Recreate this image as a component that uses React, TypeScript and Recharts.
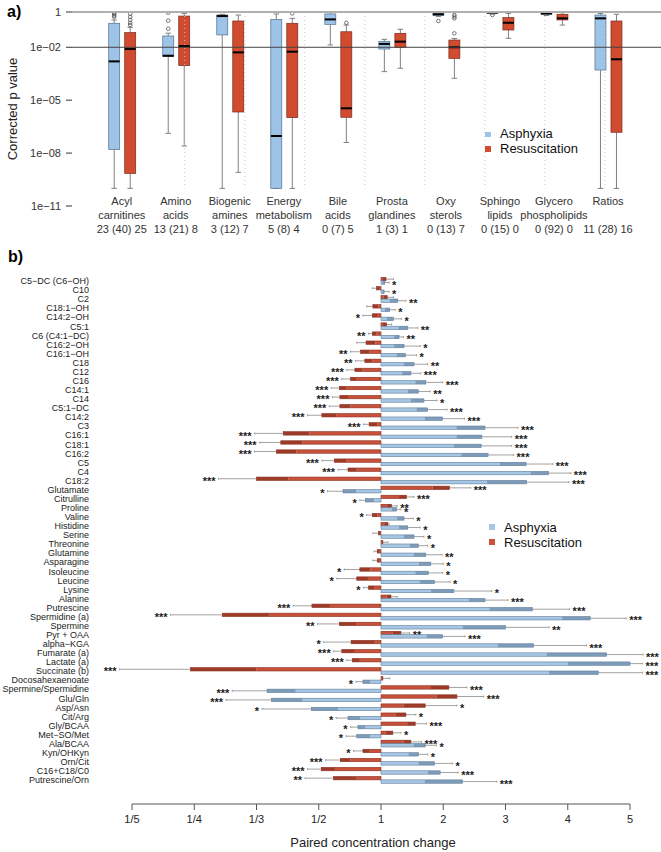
import React from "react";
import { ComposedChart, BarChart, Bar, XAxis, YAxis, ReferenceLine, Legend } from "recharts";

const FONT = '"Liberation Sans", Arial, Helvetica, sans-serif';

// ---------- panel a: corrected p values per metabolite class ----------
const groupLine1 = ["Acyl", "Amino", "Biogenic", "Energy", "Bile", "Prosta", "Oxy", "Sphingo", "Glycero", "Ratios"];
const groupLine2 = ["carnitines", "acids", "amines", "metabolism", "acids", "glandines", "sterols", "lipids", "phospholipids", ""];
const groupCounts = ["23 (40) 25", "13 (21) 8", "3 (12) 7", "5 (8) 4", "0 (7) 5", "1 (3) 1", "0 (13) 7", "0 (15) 0", "0 (92) 0", "11 (28) 16"];

// log10(p): [lower whisker, Q1, median, Q3, upper whisker]
const asphBoxes = [
  [-10.0, -7.8, -2.8, -0.64, -0.45],
  [-6.88, -2.53, -2.48, -1.36, -1.2],
  [-10.0, -1.3, -0.23, -0.17, -0.13],
  [-10.0, -10.0, -7.03, -0.42, -0.11],
  [-1.87, -0.7, -0.42, -0.11, -0.02],
  [-3.38, -2.1, -1.81, -1.68, -1.55],
  [-0.25, -0.19, -0.13, -0.08, -0.04],
  [-0.12, -0.08, -0.03, -0.01, 0],
  [-0.2, -0.15, -0.08, -0.02, 0],
  [-10.0, -3.29, -0.36, -0.17, -0.08],
];
const asphOutliers = [[-0.05, -0.12, -0.2, -0.27], [-0.04, -0.49, -0.95], [], [], [], [], [-0.51], [-0.17], [], []];

const resusBoxes = [
  [-10.0, -9.15, -2.1, -1.17, -0.87],
  [-7.6, -3.04, -1.93, -0.23, -0.08],
  [-9.09, -5.67, -2.29, -0.51, -0.17],
  [-10.0, -5.99, -2.25, -0.64, -0.36],
  [-7.4, -5.97, -5.46, -1.12, -0.74],
  [-3.19, -2.0, -1.68, -1.21, -0.98],
  [-3.76, -2.63, -2.0, -1.59, -1.5],
  [-1.49, -1.02, -0.61, -0.32, -0.08],
  [-0.74, -0.45, -0.36, -0.13, -0.04],
  [-10.0, -6.82, -2.68, -0.51, -0.13],
];
const resusOutliers = [[-0.1, -0.28, -0.45, -0.62, -0.74], [], [], [-0.08], [-0.61], [], [-0.17, -0.26, -0.36, -1.21], [], [], []];

const pTicks = [1, 1e-2, 1e-5, 1e-8, 1e-11];
const pTickLabels = ["1", "1e\u221202", "1e\u221205", "1e\u221208", "1e\u221211"];
const groupBounds = [1.5, 2.5, 3.5, 4.5, 5.5, 6.5, 7.5, 8.5, 9.5];

// ---------- panel b: paired concentration change (signed fold: -2 = 1/2) ----------
const metabolites = [
  "C5\u2212DC (C6\u2212OH)", "C10", "C2", "C18:1\u2212OH", "C14:2\u2212OH", "C5:1", "C6 (C4:1\u2212DC)", "C16:2\u2212OH",
  "C16:1\u2212OH", "C18", "C12", "C16", "C14:1", "C14", "C5:1\u2212DC", "C14:2", "C3", "C16:1", "C18:1", "C16:2",
  "C5", "C4", "C18:2", "Glutamate", "Citrulline", "Proline", "Valine", "Histidine", "Serine", "Threonine",
  "Glutamine", "Asparagine", "Isoleucine", "Leucine", "Lysine", "Alanine", "Putrescine", "Spermidine (a)",
  "Spermine", "Pyr + OAA", "alpha\u2212KGA", "Fumarate (a)", "Lactate (a)", "Succinate (b)", "Docosahexaenoate",
  "Spermine/Spermidine", "Glu/Gln", "Asp/Asn", "Cit/Arg", "Gly/BCAA", "Met\u2212SO/Met", "Ala/BCAA", "Kyn/OHKyn",
  "Orn/Cit", "C16+C18/C0", "Putrescine/Orn",
];

// [inner, outer, whisker end]
const resusFold = [
  [1.02, 1.08, 1.2], [-1.02, -1.07, -1.14], [1.04, 1.1, 1.2], [-1.04, -1.13, -1.23], [-1.05, -1.14, -1.29],
  [1.03, 1.09, 1.17], [-1.07, -1.14, -1.2], [-1.09, -1.24, -1.39], [-1.19, -1.33, -1.49], [-1.14, -1.26, -1.41],
  [-1.3, -1.42, -1.55], [-1.39, -1.49, -1.63], [-1.55, -1.67, -1.8], [-1.53, -1.66, -1.78], [-1.49, -1.66, -1.83],
  [-1.72, -1.95, -2.18], [-1.06, -1.19, -1.28], [-2.15, -2.57, -3.03], [-2.26, -2.61, -2.95], [-2.36, -2.68, -3.03],
  [-1.55, -1.75, -1.95], [-1.39, -1.53, -1.69], [-2.49, -3.0, -3.61], [1.83, 2.1, 2.44], [1.29, 1.41, 1.53],
  [1.09, 1.17, 1.26], [-1.06, -1.14, -1.23], [1.05, 1.11, 1.13], [-1.01, -1.04, -1.13], [1.01, 1.03, 1.11],
  [-1.02, -1.06, -1.11], [-1.02, -1.06, -1.13], [-1.17, -1.34, -1.59], [-1.21, -1.39, -1.71], [-1.1, -1.2, -1.28],
  [1.09, 1.16, 1.26], [-1.82, -2.11, -2.41], [-2.8, -3.55, -4.38], [-1.4, -1.67, -2.02], [1.19, 1.32, 1.46],
  [-1.1, -1.48, -1.92], [-1.42, -1.63, -1.76], [-1.34, -1.46, -1.55], [-3.0, -4.06, -5.2], [1.01, 1.03, 1.14],
  [1.79, 2.09, 2.38], [1.89, 2.22, 2.65], [1.36, 1.71, 2.22], [1.23, 1.4, 1.56], [1.42, 1.55, 1.73],
  [1.07, 1.19, 1.32], [1.36, 1.48, 1.65], [-1.18, -1.29, -1.44], [-1.49, -1.65, -1.89], [-1.74, -1.96, -2.18],
  [-1.39, -1.76, -2.22],
];
const resusStars = [
  "", "", "", "", "*", "", "**", "", "**", "**", "***", "***", "***", "***", "***", "***", "***", "***", "***", "***",
  "***", "***", "***", "***", "***", "**", "*", "", "", "", "", "", "*", "*", "*", "", "***", "***", "**", "**",
  "*", "***", "***", "***", "", "***", "***", "*", "*", "***", "*", "***", "*", "***", "***", "**",
];

const asphFold = [
  [1.02, 1.06, 1.13], [1.02, 1.05, 1.13], [1.14, 1.27, 1.4], [1.06, 1.14, 1.23], [1.09, 1.2, 1.33],
  [1.28, 1.43, 1.59], [1.21, 1.29, 1.36], [1.21, 1.37, 1.63], [1.25, 1.39, 1.57], [1.37, 1.53, 1.75],
  [1.34, 1.48, 1.64], [1.55, 1.72, 1.99], [1.43, 1.6, 1.79], [1.48, 1.69, 1.9], [1.57, 1.75, 2.06],
  [1.7, 1.99, 2.34], [2.21, 2.67, 3.2], [2.21, 2.62, 3.1], [2.17, 2.61, 3.1], [2.29, 2.72, 3.13],
  [2.91, 3.33, 3.76], [3.4, 3.69, 4.05], [2.7, 3.34, 4.02], [-1.4, -1.61, -1.86], [-1.11, -1.25, -1.34],
  [1.17, 1.25, 1.32], [1.26, 1.37, 1.52], [1.29, 1.43, 1.63], [1.37, 1.53, 1.69], [1.46, 1.6, 1.75],
  [1.53, 1.72, 1.98], [1.61, 1.8, 2.0], [1.55, 1.76, 1.99], [1.62, 1.86, 2.11], [1.8, 2.17, 2.78],
  [2.41, 2.67, 3.04], [2.74, 3.43, 4.03], [3.91, 4.36, 4.94], [2.31, 3.0, 3.7], [1.73, 1.99, 2.35],
  [2.88, 3.45, 4.3], [3.66, 4.62, 5.21], [4.0, 5.0, 5.2], [3.7, 4.49, 5.2], [-1.17, -1.29, -1.4],
  [-2.37, -2.83, -3.39], [-2.26, -2.76, -3.49], [-1.69, -2.12, -2.91], [-1.33, -1.53, -1.72], [-1.25, -1.37, -1.49],
  [-1.17, -1.39, -1.56], [1.52, 1.71, 1.89], [1.44, 1.6, 1.75], [1.6, 1.86, 2.15], [1.75, 1.95, 2.24],
  [1.7, 2.31, 2.86],
];
const asphStars = [
  "*", "*", "**", "*", "*", "**", "**", "*", "*", "**", "***", "***", "**", "*", "***", "***", "***", "***", "***", "***",
  "***", "***", "***", "*", "*", "*", "*", "*", "*", "*", "**", "*", "*", "*", "*", "***", "***", "***", "**", "***",
  "***", "***", "***", "***", "*", "***", "***", "*", "*", "*", "*", "*", "*", "*", "***", "***",
];

const foldTicks = [-5, -4, -3, -2, 1, 2, 3, 4, 5];
const foldTickLabels = ["1/5", "1/4", "1/3", "1/2", "1", "2", "3", "4", "5"];

const BLUE = { box: "#9dc3e6", boxStroke: "#50708f", light: "#a7c6e3", dark: "#7e9bb8", stroke: "#5f7f9e" };
const RED = { box: "#d04b2f", boxStroke: "#7a2a1a", light: "#c8513a", dark: "#9e3b28", stroke: "#8a3020" };

// signed fold -> linear axis position (1 -> 0, 2 -> 1, 1/2 -> -1)
const toAxis = (s: number) => (s >= 0 ? s - 1 : s + 1);

const rowsA = groupLine1.map((g, i) => ({
  group: `${g} ${groupLine2[i]}`.trim(),
  asph: asphBoxes[i],
  asphOut: asphOutliers[i],
  resus: resusBoxes[i],
  resusOut: resusOutliers[i],
}));

const rowsB = metabolites.map((name, i) => ({
  name,
  resus: resusFold[i],
  resusStars: resusStars[i],
  asph: asphFold[i],
  asphStars: asphStars[i],
}));

function makeBoxShape(key: "asph" | "resus", fill: string, stroke: string) {
  return (props: any) => {
    const { x, y, width, height, payload } = props;
    const s: number[] = payload[key];
    const out: number[] = payload[key + "Out"];
    const top = Math.min(y, y + height);
    const bottom = Math.max(y, y + height);
    const lo = s[0];
    const hi = s[4];
    const py = (v: number) => top + ((hi - v) / (hi - lo)) * (bottom - top);
    const cx = x + width / 2;
    const cap = width / 4;
    const wc = "#808080";
    return (
      <g>
        <line x1={cx} x2={cx} y1={py(hi)} y2={py(s[3])} stroke={wc} />
        <line x1={cx} x2={cx} y1={py(s[1])} y2={py(lo)} stroke={wc} />
        <line x1={cx - cap} x2={cx + cap} y1={py(hi)} y2={py(hi)} stroke={wc} />
        <line x1={cx - cap} x2={cx + cap} y1={py(lo)} y2={py(lo)} stroke={wc} />
        <rect x={x} y={py(s[3])} width={width} height={Math.max(py(s[1]) - py(s[3]), 1)} fill={fill} stroke={stroke} strokeWidth={0.7} />
        <line x1={x} x2={x + width} y1={py(s[2])} y2={py(s[2])} stroke="#000" strokeWidth={2} />
        {out.map((o, i) => (
          <circle key={i} cx={cx} cy={py(o)} r={1.8} fill="none" stroke="#555" strokeWidth={0.8} />
        ))}
      </g>
    );
  };
}

function makeFoldShape(key: "asph" | "resus", pal: typeof BLUE) {
  return (props: any) => {
    const { x, y, width, height, payload } = props;
    const [inner, outer, whisk] = (payload[key] as number[]).map(toAxis);
    const stars: string = payload[key + "Stars"];
    const l = Math.min(x, x + width);
    const r = Math.max(x, x + width);
    const p0 = outer >= 0 ? l : r;
    const pb = outer >= 0 ? r : l;
    const px = (t: number) => p0 + ((pb - p0) * t) / outer;
    const pa = px(inner);
    const pc = px(whisk);
    const cy = y + height / 2;
    const dir = outer >= 0 ? 1 : -1;
    return (
      <g>
        <line x1={pb} x2={pc} y1={cy} y2={cy} stroke="#8a8a8a" strokeWidth={0.8} />
        <line x1={pc} x2={pc} y1={cy - 1} y2={cy + 1} stroke="#8a8a8a" strokeWidth={0.8} />
        <rect x={Math.min(p0, pa)} y={y} width={Math.abs(pa - p0)} height={height} fill={pal.light} />
        <rect x={Math.min(pa, pb)} y={y} width={Math.abs(pb - pa)} height={height} fill={pal.dark} />
        <rect x={Math.min(p0, pb)} y={y} width={Math.abs(pb - p0)} height={height} fill="none" stroke={pal.stroke} strokeWidth={0.6} />
        {stars ? (
          <text
            x={pc + dir * 3}
            y={cy + 6.2}
            textAnchor={dir > 0 ? "start" : "end"}
            fontSize={11}
            fontWeight="bold"
            fill="#1a1a1a"
            fontFamily={FONT}
          >
            {stars}
          </text>
        ) : null}
      </g>
    );
  };
}

const legendOrder = ["Asphyxia", "Resuscitation"];
function LegendList(props: any) {
  const { payload, size, lineHeight, gap } = props;
  const items = [...(payload || [])].sort((a: any, b: any) => legendOrder.indexOf(a.value) - legendOrder.indexOf(b.value));
  return (
    <div style={{ fontFamily: FONT, fontSize: 13, color: "#111", lineHeight: `${lineHeight}px` }}>
      {items.map((it: any) => (
        <div key={it.value} style={{ display: "flex", alignItems: "center", whiteSpace: "nowrap" }}>
          <span style={{ display: "inline-block", width: size, height: size, background: it.color, marginRight: gap }} />
          {it.value}
        </div>
      ))}
    </div>
  );
}

function GroupTick(props: any) {
  const { x, y, index } = props;
  return (
    <text textAnchor="middle" fontSize={11} fill="#333" fontFamily={FONT}>
      <tspan x={x} y={y - 1}>{groupLine1[index]}</tspan>
      <tspan x={x} y={y + 13}>{groupLine2[index]}</tspan>
      <tspan x={x} y={y + 27}>{groupCounts[index]}</tspan>
    </text>
  );
}

export default function App() {
  return (
    <div style={{ position: "absolute", left: 0, top: 0, width: 661, height: 852, background: "#fff", fontFamily: FONT }}>
      <div style={{ position: "absolute", left: 7, top: 4, fontSize: 16, fontWeight: "bold", lineHeight: "16px" }}>a)</div>
      <div style={{ position: "absolute", left: 8, top: 249, fontSize: 16, fontWeight: "bold", lineHeight: "16px" }}>b)</div>

      <div style={{ position: "absolute", left: 0, top: 0 }}>
        <ComposedChart width={661} height={240} data={rowsA} margin={{ top: 12, right: 0, bottom: 0, left: 0 }} barSize={11} barGap={5}>
          <XAxis
            dataKey="group"
            type="category"
            padding={{ left: 22.7, right: 26 }}
            axisLine={false}
            tickLine={false}
            tickSize={0}
            tickMargin={0}
            interval={0}
            height={34}
            tick={<GroupTick />}
          />
          <XAxis xAxisId="sep" type="number" domain={[0.5, 10.5]} padding={{ left: 22.7, right: 26 }} hide />
          <YAxis
            scale="log"
            domain={[1e-11, 1]}
            allowDataOverflow
            ticks={pTicks}
            tickFormatter={(v: number, i: number) => pTickLabels[i]}
            width={72}
            axisLine={false}
            tickLine={{ stroke: "#333" }}
            tickSize={6}
            tickMargin={5}
            tick={{ fontSize: 11, fill: "#333", fontFamily: FONT }}
            label={{ value: "Corrected p value", angle: -90, position: "insideLeft", offset: 12, fontSize: 13, fill: "#222", style: { textAnchor: "middle" } }}
          />
          {groupBounds.map((b) => (
            <ReferenceLine
              key={b}
              xAxisId="sep"
              segment={[{ x: b, y: 1 }, { x: b, y: 1e-10 }]}
              stroke="#c4c4c4"
              strokeDasharray="1 3"
            />
          ))}
          <ReferenceLine y={1} stroke="#b0b0b0" strokeWidth={2} />
          <ReferenceLine y={0.01} stroke="#444" strokeWidth={1} />
          <Bar
            name="Asphyxia"
            dataKey={(d: any) => [Math.pow(10, d.asph[0]), Math.pow(10, d.asph[4])]}
            fill={BLUE.box}
            shape={makeBoxShape("asph", BLUE.box, BLUE.boxStroke)}
            isAnimationActive={false}
          />
          <Bar
            name="Resuscitation"
            dataKey={(d: any) => [Math.pow(10, d.resus[0]), Math.pow(10, d.resus[4])]}
            fill={RED.box}
            shape={makeBoxShape("resus", RED.box, RED.boxStroke)}
            isAnimationActive={false}
          />
          <Legend
            layout="vertical"
            align="center"
            verticalAlign="middle"
            wrapperStyle={{ left: 485, top: 127, width: "auto" }}
            content={(p: any) => <LegendList payload={p.payload} size={5.5} lineHeight={14.5} gap={9.5} />}
          />
        </ComposedChart>
      </div>

      <div style={{ position: "absolute", left: 0, top: 250 }}>
        <BarChart
          width={661}
          height={602}
          data={rowsB}
          layout="vertical"
          margin={{ top: 26.46, right: 31, bottom: 0, left: 0 }}
          barSize={3.4}
          barGap={0}
        >
          <XAxis
            type="number"
            domain={[-4, 4]}
            ticks={foldTicks.map(toAxis)}
            tickFormatter={(v: number, i: number) => foldTickLabels[i]}
            axisLine={{ stroke: "#555" }}
            tickLine={{ stroke: "#555" }}
            tickSize={6}
            tickMargin={5}
            height={48}
            tick={{ fontSize: 11, fill: "#222", fontFamily: FONT }}
            label={{ value: "Paired concentration change", position: "insideBottom", offset: 5, dx: -8, fontSize: 13, fill: "#222" }}
          />
          <YAxis
            type="category"
            dataKey="name"
            width={132}
            interval={0}
            axisLine={false}
            tickLine={false}
            tickSize={0}
            tickMargin={43}
            padding={{ top: 0, bottom: 19.46 }}
            tick={{ fontSize: 9, fill: "#222", fontFamily: FONT }}
          />
          <Bar
            name="Resuscitation"
            dataKey={(d: any) => [0, toAxis(d.resus[1])]}
            fill={RED.light}
            shape={makeFoldShape("resus", RED)}
            isAnimationActive={false}
          />
          <Bar
            name="Asphyxia"
            dataKey={(d: any) => [0, toAxis(d.asph[1])]}
            fill={BLUE.light}
            shape={makeFoldShape("asph", BLUE)}
            isAnimationActive={false}
          />
          <Legend
            layout="vertical"
            align="center"
            verticalAlign="middle"
            wrapperStyle={{ left: 489, top: 269.5, width: "auto" }}
            content={(p: any) => <LegendList payload={p.payload} size={6} lineHeight={15} gap={9} />}
          />
        </BarChart>
      </div>
    </div>
  );
}
